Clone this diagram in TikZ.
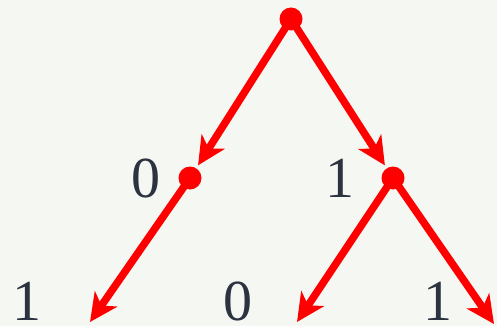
\documentclass[tikz,border=0pt]{standalone}
\usepackage{fontspec}
\setmainfont{Liberation Serif}
\usetikzlibrary{arrows.meta}
\definecolor{bg}{HTML}{F5F7F2}
\definecolor{txt}{HTML}{2B3240}
\definecolor{edge}{HTML}{FF0000}
\tikzset{
  dot/.style={circle,fill=edge,inner sep=0pt,minimum size=23pt},
  edgearrow/.style={draw=edge,line width=7.5pt,-{Stealth[length=28pt,width=27pt,inset=8pt]}},
  lbl/.style={text=txt,font=\fontsize{58}{58}\selectfont,inner sep=0pt}
}
\begin{document}
\begin{tikzpicture}[x=1pt,y=-1pt]
\fill[bg] (0,0) rectangle (497,326);
\useasboundingbox (0,0) rectangle (497,326);
\coordinate (r) at (291,19);
\coordinate (a) at (190,178);
\coordinate (b) at (393,178);
\coordinate (l1) at (90,322);
\coordinate (l2) at (297,322);
\coordinate (l3) at (494,324);
\draw[edgearrow,shorten >=15pt] (r) -- (a);
\draw[edgearrow,shorten >=15pt] (r) -- (b);
\draw[edgearrow] (a) -- (l1);
\draw[edgearrow] (b) -- (l2);
\draw[edgearrow] (b) -- (l3);
\node[dot] (rn) at (r) {};
\node[dot] (an) at (a) {};
\node[dot] (bn) at (b) {};
\node[lbl] (t0) at (146,178) {0};
\node[lbl] (t1) at (340,178) {1};
\node[lbl] (t2) at (27,301) {1};
\node[lbl] (t3) at (238,301) {0};
\node[lbl] (t4) at (438,301) {1};
\end{tikzpicture}
\end{document}
